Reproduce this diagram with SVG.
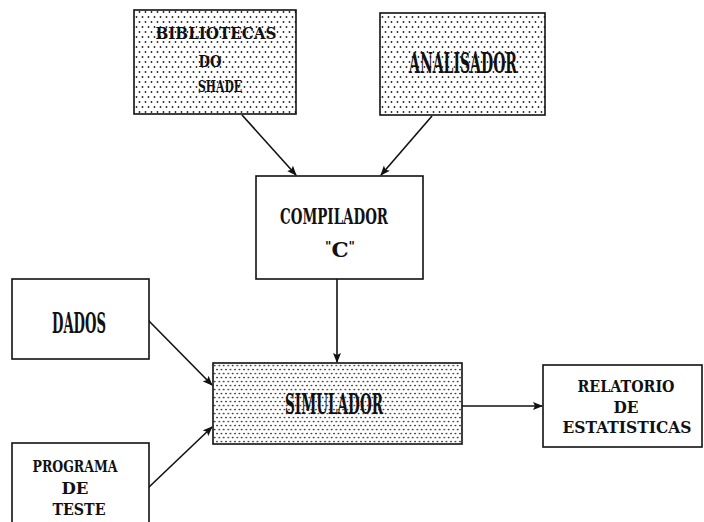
<svg xmlns="http://www.w3.org/2000/svg" width="704" height="522" viewBox="0 0 704 522">
<style>
.box{stroke:#111;stroke-width:1.6;fill:#fff}
.d1{fill:url(#dots1)}
.d2{fill:url(#dots2)}
.mono{font-family:"DejaVu Serif","Liberation Serif",serif;font-weight:bold;fill:#111;text-anchor:middle}
.cond{font-family:"DejaVu Serif","Liberation Serif",serif;font-weight:bold;fill:#111;text-anchor:middle}
.con line{stroke:#111;stroke-width:1.6;marker-end:url(#ah)}
</style>
<defs>
<pattern id="dots1" width="6" height="10" patternUnits="userSpaceOnUse">
<rect width="6" height="10" fill="#fff"/>
<circle cx="1.5" cy="2" r="0.9" fill="#222"/>
<circle cx="4.5" cy="7" r="0.9" fill="#222"/>
</pattern>
<pattern id="dots2" width="4.5" height="8" patternUnits="userSpaceOnUse">
<rect width="4.5" height="8" fill="#fff"/>
<circle cx="1" cy="1.5" r="0.85" fill="#222"/>
<circle cx="3.25" cy="5.5" r="0.85" fill="#222"/>
</pattern>
<marker id="ah" markerWidth="10" markerHeight="8" refX="9" refY="4" orient="auto" markerUnits="userSpaceOnUse">
<path d="M0,0 L10,4 L0,8 L2,4 Z" fill="#111"/>
</marker>
</defs>
<g id="connectors" class="con">
<line x1="242" y1="115" x2="296" y2="175"/>
<line x1="432" y1="116" x2="381" y2="175"/>
<line x1="337" y1="279" x2="337" y2="362"/>
<line x1="148" y1="320" x2="212" y2="385"/>
<line x1="148" y1="488" x2="212" y2="427"/>
<line x1="462" y1="406" x2="542" y2="406"/>
</g>
<g id="bibliotecas">
<rect class="box d1" x="134" y="10" width="162" height="104"/>
<text class="mono" x="216" y="39" font-size="16.5" textLength="121" lengthAdjust="spacingAndGlyphs">BIBLIOTECAS</text>
<text class="mono" x="210" y="67" font-size="16.5" textLength="23" lengthAdjust="spacingAndGlyphs">DO</text>
<text class="mono" x="220" y="92" font-size="16.5" textLength="44" lengthAdjust="spacingAndGlyphs">SHADE</text>
</g>
<g id="analisador">
<rect class="box d1" x="380" y="13" width="165" height="102"/>
<text class="cond" x="463" y="73" font-size="27" textLength="108" lengthAdjust="spacingAndGlyphs">ANALISADOR</text>
</g>
<g id="compilador">
<rect class="box" x="256" y="176" width="167" height="103"/>
<text class="cond" x="334" y="224" font-size="23" textLength="108" lengthAdjust="spacingAndGlyphs">COMPILADOR</text>
<text class="cond" x="340" y="257" font-size="21" textLength="30" lengthAdjust="spacingAndGlyphs"><tspan font-size="12" dy="-6">"</tspan><tspan dy="6">C</tspan><tspan font-size="12" dy="-6">"</tspan></text>
</g>
<g id="dados">
<rect class="box" x="12" y="279" width="137" height="80"/>
<text class="cond" x="79" y="333" font-size="28" textLength="54" lengthAdjust="spacingAndGlyphs">DADOS</text>
</g>
<g id="simulador">
<rect class="box d2" x="213" y="363" width="249" height="81"/>
<text class="cond" x="334" y="414" font-size="28" textLength="98" lengthAdjust="spacingAndGlyphs">SIMULADOR</text>
</g>
<g id="programa">
<rect class="box" x="12" y="443" width="137" height="90"/>
<text class="mono" x="75" y="472" font-size="16" textLength="85" lengthAdjust="spacingAndGlyphs">PROGRAMA</text>
<text class="mono" x="75" y="494" font-size="16" textLength="27" lengthAdjust="spacingAndGlyphs">DE</text>
<text class="mono" x="79" y="515" font-size="16" textLength="53" lengthAdjust="spacingAndGlyphs">TESTE</text>
</g>
<g id="relatorio">
<rect class="box" x="543" y="365" width="159" height="82"/>
<text class="mono" x="626" y="392" font-size="16" textLength="97" lengthAdjust="spacingAndGlyphs">RELATORIO</text>
<text class="mono" x="626" y="413" font-size="16" textLength="25" lengthAdjust="spacingAndGlyphs">DE</text>
<text class="mono" x="627" y="433" font-size="16" textLength="129" lengthAdjust="spacingAndGlyphs">ESTATISTICAS</text>
</g>
</svg>
